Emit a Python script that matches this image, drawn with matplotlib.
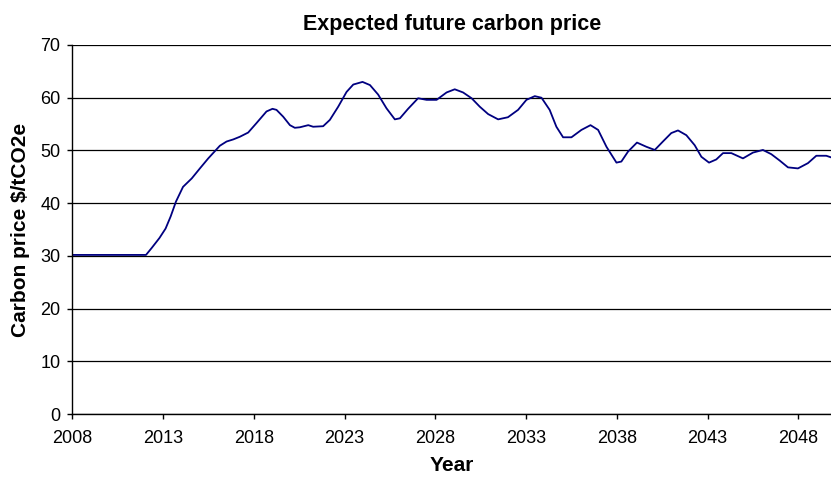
import matplotlib.pyplot as plt

# Expected carbon price path, $/tCO2e
years = [2008.0, 2012.06, 2012.37, 2012.8, 2013.14, 2013.42, 2013.71, 2014.1,
         2014.58, 2015.03, 2015.49, 2016.13, 2016.5, 2016.87, 2017.23, 2017.69,
         2018.15, 2018.7, 2019.03, 2019.25, 2019.62, 2019.99, 2020.26, 2020.54,
         2021.0, 2021.27, 2021.82, 2022.19, 2022.65, 2023.11, 2023.48, 2023.99,
         2024.4, 2024.85, 2025.31, 2025.77, 2026.05, 2026.5, 2027.05, 2027.52,
         2028.07, 2028.62, 2029.07, 2029.53, 2030.0, 2030.45, 2030.91, 2031.46,
         2032.0, 2032.56, 2033.02, 2033.48, 2033.85, 2034.3, 2034.67, 2035.04,
         2035.5, 2036.05, 2036.55, 2036.97, 2037.43, 2037.98, 2038.25, 2038.62,
         2039.11, 2039.63, 2040.09, 2040.54, 2041.0, 2041.37, 2041.83, 2042.29,
         2042.66, 2043.08, 2043.48, 2043.85, 2044.31, 2044.95, 2045.5, 2046.05,
         2046.51, 2046.97, 2047.43, 2047.98, 2048.53, 2048.99, 2049.54, 2049.8]
price = [30.2, 30.2, 31.5, 33.4, 35.2, 37.5, 40.3, 43.1,
         44.7, 46.6, 48.5, 50.9, 51.7, 52.1, 52.6, 53.4,
         55.2, 57.4, 57.9, 57.7, 56.4, 54.8, 54.3, 54.4,
         54.8, 54.5, 54.6, 55.8, 58.3, 61.1, 62.5, 63.0,
         62.4, 60.6, 58.0, 55.9, 56.1, 57.9, 59.9, 59.6,
         59.6, 61.0, 61.6, 61.0, 59.9, 58.3, 56.9, 55.9,
         56.3, 57.7, 59.6, 60.3, 60.0, 57.7, 54.5, 52.5,
         52.5, 53.9, 54.8, 53.9, 50.7, 47.7, 47.9, 49.8,
         51.5, 50.7, 50.1, 51.7, 53.3, 53.8, 52.9, 51.0,
         48.8, 47.7, 48.3, 49.5, 49.5, 48.5, 49.6, 50.1,
         49.3, 48.1, 46.8, 46.6, 47.6, 49.0, 49.0, 48.7]

xticks = list(range(2008, 2049, 5))
yticks = list(range(0, 71, 10))

plt.rcParams['font.family'] = ['Liberation Sans', 'DejaVu Sans']

fig = plt.figure(figsize=(8.31, 4.78), dpi=100)
ax = fig.add_axes([0.087, 0.1334, 0.913, 0.7725])

ax.plot(years, price, color='#000080', lw=1.3)

ax.set_xlim(2008, 2049.8)
ax.set_ylim(0, 70)
ax.set_xticks(xticks)
ax.set_yticks(yticks)
ax.tick_params(labelsize=13, length=3.6, width=1, color='black')
ax.tick_params(axis='x', pad=8)
ax.tick_params(axis='y', pad=5)
ax.yaxis.grid(True, color='black', lw=0.9)
ax.set_axisbelow(True)
for s in ['top', 'right']:
    ax.spines[s].set_visible(False)
for s in ['left', 'bottom']:
    ax.spines[s].set_linewidth(1)

ax.set_title('Expected future carbon price', fontsize=15.5, fontweight='bold', pad=11)
ax.set_xlabel('Year', fontsize=15, fontweight='bold', labelpad=6)
ax.set_ylabel('Carbon price $/tCO2e', fontsize=15, fontweight='bold', labelpad=7)

fig.savefig('out.png', dpi=100)
